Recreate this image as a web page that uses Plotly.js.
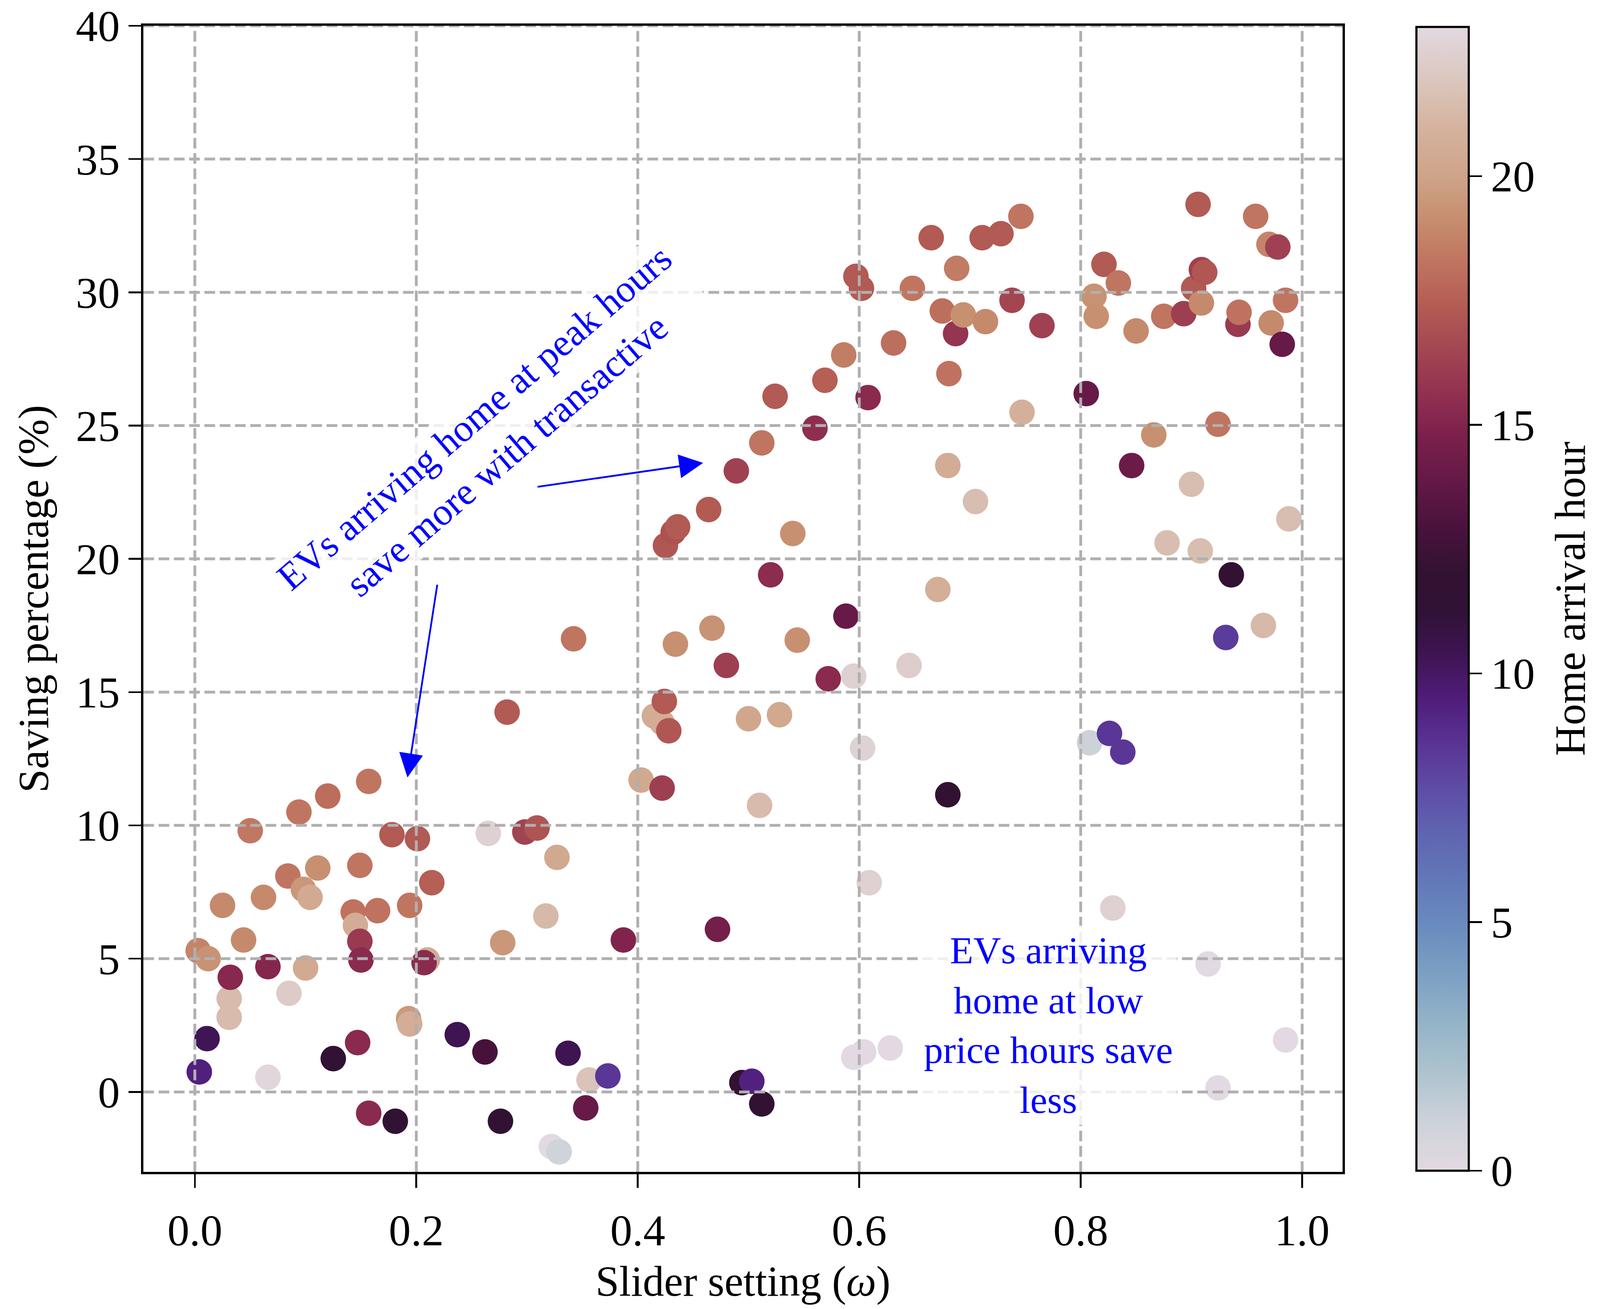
<!DOCTYPE html>
<html>
<head>
<meta charset="utf-8">
<script src="https://cdn.plot.ly/plotly-3.0.1.min.js"></script>
<style>html,body{margin:0;padding:0;background:#fff;overflow:hidden;}</style>
</head>
<body>
<div id="plot"></div>
<script>
// ---- data ----
const sliderSetting = [
0.003,0.012,0.004,0.011,0.025,0.031,0.031,0.032,0.044,0.050,
0.062,0.066,0.066,0.084,0.085,0.094,0.098,0.104,0.100,0.111,
0.120,0.125,0.143,0.145,0.149,0.149,0.150,0.147,0.157,0.165,
0.157,0.178,0.181,0.194,0.201,0.193,0.194,0.210,0.207,0.214,
0.237,0.262,0.265,0.276,0.278,0.282,0.298,0.309,0.317,0.327,
0.322,0.329,0.337,0.342,0.353,0.356,0.373,0.387,0.403,0.415,
0.422,0.424,0.428,0.422,0.425,0.434,0.432,0.436,0.464,0.467,
0.472,0.480,0.489,0.494,0.503,0.500,0.512,0.510,0.512,0.520,
0.524,0.528,0.540,0.544,0.560,0.569,0.572,0.586,0.588,0.595,
0.597,0.602,0.603,0.595,0.604,0.608,0.609,0.628,0.631,0.645,
0.648,0.665,0.671,0.675,0.680,0.681,0.680,0.687,0.688,0.694,
0.705,0.711,0.714,0.728,0.738,0.746,0.747,0.765,0.805,0.808,
0.812,0.814,0.821,0.826,0.829,0.834,0.838,0.846,0.850,0.866,
0.875,0.878,0.893,0.900,0.902,0.906,0.908,0.909,0.912,0.909,
0.915,0.924,0.924,0.931,0.936,0.942,0.943,0.958,0.965,0.970,
0.972,0.978,0.982,0.985,0.985,0.988];
const savingPct = [
5.3,5.0,0.75,2.0,7.0,3.5,2.8,4.3,5.7,9.8,
7.3,4.7,0.55,8.1,3.7,10.5,7.6,7.3,4.65,8.4,
11.1,1.25,6.75,6.25,8.5,5.65,4.95,1.85,11.65,6.8,
-0.8,9.65,-1.1,7.0,9.5,2.75,2.55,4.95,4.85,7.85,
2.15,1.5,9.7,-1.1,5.6,14.25,9.75,9.9,6.6,8.8,
-2.05,-2.25,1.45,17.0,-0.6,0.45,0.6,5.7,11.7,14.1,
13.85,14.65,13.55,11.4,20.5,16.8,21.0,21.2,21.85,17.4,
6.1,16.0,23.3,0.35,0.4,14.0,24.35,10.75,-0.45,19.4,
26.1,14.15,20.95,16.95,24.9,26.7,15.5,27.65,17.85,15.6,
30.6,30.15,12.9,1.3,1.5,26.05,7.85,1.65,28.1,16.0,
30.15,32.05,18.85,29.3,23.5,26.95,11.15,28.45,30.9,29.15,
22.15,32.05,28.9,32.2,29.7,32.85,25.5,28.75,26.2,13.1,
29.85,29.1,31.05,13.45,6.9,30.35,12.75,23.5,28.55,24.65,
29.1,20.6,29.2,22.8,30.15,33.3,20.3,30.85,30.75,29.6,
4.8,25.05,0.15,17.05,19.4,28.8,29.25,32.85,17.5,31.8,
28.85,31.7,28.05,29.7,1.95,21.5];
const arrivalHour = [
18.8,19.3,9.4,10.3,19.0,21.4,21.4,15.2,19.0,18.4,
19.0,15.1,22.8,18.3,22.2,18.3,19.5,20.4,20.4,19.2,
18.0,12.0,18.2,20.5,18.3,16.0,15.3,15.3,18.3,18.2,
15.3,17.3,12.0,18.3,17.3,19.6,20.6,20.5,15.3,17.5,
10.4,12.8,22.5,12.0,19.5,17.3,16.4,17.1,21.3,20.3,
23.0,0.9,10.4,18.3,14.0,21.8,8.5,15.0,20.3,20.5,
20.6,17.3,17.2,16.2,17.2,19.2,17.0,17.3,17.3,19.3,
14.5,16.2,16.3,12.0,9.3,20.2,18.3,21.4,12.0,15.4,
17.3,20.3,19.2,19.2,15.5,17.5,15.3,18.6,14.0,22.5,
17.3,17.3,22.6,23.0,23.0,15.3,22.5,23.0,18.1,22.3,
18.3,17.3,20.7,18.1,20.5,18.2,12.0,15.8,18.5,19.2,
21.5,17.3,19.0,17.3,16.5,18.3,20.8,16.3,14.0,1.0,
19.3,19.2,17.3,8.5,22.5,18.3,8.5,14.2,19.0,19.2,
18.3,21.5,16.2,21.5,17.3,17.3,21.5,16.3,17.2,19.0,
23.0,18.3,23.0,8.3,12.0,16.0,18.2,18.3,21.3,18.8,
19.0,16.3,14.0,18.3,23.0,21.5];

// colour map (sampled from the reference colour bar), hour -> colour
const cmapHours  = [0,1,1.9,3,3.9,4.9,5.8,6.7,7.7,8.6,9.5,10.4,11.2,12.0,12.9,13.8,14.8,15.5,16.5,17.4,18.3,19.1,20.0,21.0,21.9,23];
const cmapColors = ['#e2d9e2','#cdd2d9','#b0c4cf','#93b3c8','#7da1c4','#6a8cbe','#6279b8','#6066b2','#5e4ca6','#5a3395','#501c7a','#3e1452','#301238','#321232','#48123c','#621846','#7c204c','#8f2e50','#a34652','#b45c54','#c07560','#c68d6e','#cfa488','#d5b39f','#dbc6bd','#e2d9e2'];

const xTicks = [0.0,0.2,0.4,0.6,0.8,1.0];
const yTicks = [0,5,10,15,20,25,30,35,40];
const cbTicks = [0,5,10,15,20];

const hourMin = 0, hourMax = 23;
const colorscale = cmapHours.map((h,i)=>[(h-hourMin)/(hourMax-hourMin), cmapColors[i]]);

// ---- fill the actual viewport (design size 4508 x 3351) ----
const W = window.innerWidth || 4508;
const H = window.innerHeight || 3351;
const sx = W / 4508, sy = H / 3351;
const s = Math.min(sx, sy);
const hx = v => v * sx, vy = v => v * sy, u = v => v * s;
const plotDiv = document.getElementById('plot');
plotDiv.style.width = W + 'px';
plotDiv.style.height = H + 'px';

const FONT = '"Liberation Serif", "Times New Roman", serif';
const textAngle = -Math.atan(Math.tan(38 * Math.PI / 180) * sy / sx) * 180 / Math.PI;

const trace = {
  type: 'scatter', mode: 'markers',
  x: sliderSetting, y: savingPct,
  marker: {
    size: u(72), color: arrivalHour, colorscale: colorscale,
    cmin: hourMin, cmax: hourMax, line: {width: 0},
    showscale: true,
    colorbar: {
      x: 1.0616, xanchor: 'left', xpad: 0,
      y: 0.5, yanchor: 'middle', ypad: 0,
      len: 0.998, lenmode: 'fraction',
      thickness: hx(148), thicknessmode: 'pixels',
      outlinewidth: u(6), outlinecolor: '#000',
      ticks: 'outside', ticklen: hx(35), tickwidth: u(5), tickcolor: '#000',
      tickvals: cbTicks, ticktext: cbTicks.map(String),
      tickfont: {family: FONT, size: u(124), color: '#000'},
      ticklabelstandoff: hx(8)
    }
  },
  hoverinfo: 'skip'
};

const gridLine = {color: '#b0b0b0', width: u(8), dash: u(30).toFixed(1) + 'px,' + u(13).toFixed(1) + 'px'};
const shapes = [];
xTicks.forEach(v => shapes.push({type:'line', layer:'above', xref:'x', yref:'paper', x0:v, x1:v, y0:0, y1:1, line:gridLine}));
yTicks.forEach(v => shapes.push({type:'line', layer:'above', xref:'paper', yref:'y', x0:0, x1:1, y0:v, y1:v, line:gridLine}));

const blue = '#0000ff';
const annotations = [
  {xref:'x', yref:'y', x:0.267, y:24.6, showarrow:false, textangle:textAngle,
   text:'EVs arriving home at peak hours<br>save more with transactive',
   font:{family:FONT, size:u(108), color:blue}, bgcolor:'rgba(255,255,255,0.8)', borderpad:u(6)},
  {xref:'x', yref:'y', x:0.771, y:2.5, showarrow:false,
   text:'EVs arriving<br>home at low<br>price hours save<br>less',
   font:{family:FONT, size:u(108), color:blue}, bgcolor:'rgba(255,255,255,0.8)', borderpad:u(10)},
  {xref:'x', yref:'y', axref:'x', ayref:'y', x:0.459, y:23.6, ax:0.309, ay:22.7, text:'',
   showarrow:true, arrowhead:2, arrowsize:2.7, arrowwidth:u(5), arrowcolor:blue, standoff:0, startstandoff:0},
  {xref:'x', yref:'y', axref:'x', ayref:'y', x:0.192, y:11.8, ax:0.219, ay:19.05, text:'',
   showarrow:true, arrowhead:2, arrowsize:2.7, arrowwidth:u(5), arrowcolor:blue, standoff:0, startstandoff:0},
  {xref:'paper', yref:'paper', x:1.190, y:0.5, xanchor:'center', yanchor:'middle', showarrow:false,
   textangle:-90, text:'Home arrival hour', font:{family:FONT, size:u(120), color:'#000'}}
];

const layout = {
  width: W, height: H,
  paper_bgcolor: '#fff', plot_bgcolor: '#fff',
  margin: {l: hx(404), r: W - hx(3783), t: vy(66), b: H - vy(3000), pad: 0},
  font: {family: FONT, color: '#000'},
  showlegend: false,
  xaxis: {
    range: [-0.0465, 1.0365], showgrid: false, zeroline: false,
    showline: true, linecolor: '#000', linewidth: u(6.5), mirror: true,
    ticks: 'outside', ticklen: vy(35), tickwidth: u(5), tickcolor: '#000',
    tickvals: xTicks, ticktext: xTicks.map(v => v.toFixed(1)),
    tickfont: {family: FONT, size: u(124), color: '#000'}, ticklabelstandoff: vy(12),
    ticklabeloverflow: 'allow',
    title: {text: 'Slider setting (<i>ω</i>)', font: {family: FONT, size: u(120), color: '#000'}, standoff: vy(32)},
    automargin: false
  },
  yaxis: {
    range: [-3, 40], showgrid: false, zeroline: false,
    showline: true, linecolor: '#000', linewidth: u(6.5), mirror: true,
    ticks: 'outside', ticklen: hx(35), tickwidth: u(5), tickcolor: '#000',
    tickvals: yTicks, ticktext: yTicks.map(String),
    tickfont: {family: FONT, size: u(124), color: '#000'}, ticklabelstandoff: hx(10),
    ticklabeloverflow: 'allow',
    title: {text: 'Saving percentage (%)', font: {family: FONT, size: u(120), color: '#000'}, standoff: hx(40)},
    automargin: false
  },
  shapes: shapes,
  annotations: annotations
};

Plotly.newPlot('plot', [trace], layout, {displayModeBar: false, staticPlot: true});
</script>
</body>
</html>
